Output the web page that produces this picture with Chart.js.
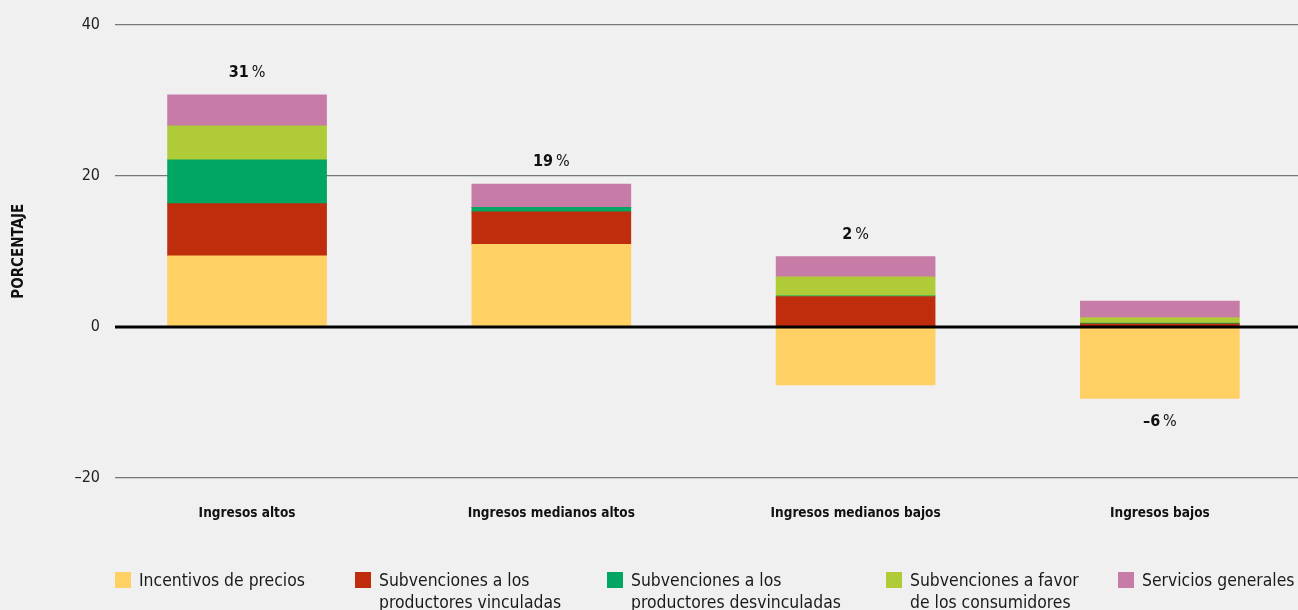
<!DOCTYPE html>
<html><head><meta charset="utf-8">
<script src="https://cdn.jsdelivr.net/npm/chart.js@4.4.1/dist/chart.umd.min.js"></script>
<style>
html,body{margin:0;padding:0;background:#f0f0f0;overflow:hidden;}
#wrap{position:relative;width:1298px;height:610px;}
canvas{position:absolute;left:0;top:0;}
.lg{position:absolute;top:569px;font-family:'Liberation Sans Narrow','DejaVu Sans Condensed',sans-serif;font-size:17.4px;line-height:22px;color:#1a1a1a;}
.lg i{position:absolute;left:0;top:3px;width:16px;height:16px;}
.lg span{display:block;padding-left:24px;white-space:nowrap;}
</style></head>
<body><div id="wrap"><canvas id="c" width="1298" height="610"></canvas><div id="legend"></div></div>
<script>
const categories = ["Ingresos altos","Ingresos medianos altos","Ingresos medianos bajos","Ingresos bajos"];
const seriesNames = [["Incentivos de precios"],["Subvenciones a los","productores vinculadas"],["Subvenciones a los","productores desvinculadas"],["Subvenciones a favor","de los consumidores"],["Servicios generales"]];
const incentivosPrecios = [9.4, 10.9, -7.7, -9.5];
const subvVinculadas   = [6.9, 4.3, 4.0, 0.4];
const subvDesvinculadas= [5.8, 0.6, 0.1, 0.1];
const subvConsumidores = [4.5, 0.0, 2.5, 0.7];
const serviciosGenerales=[4.1, 3.1, 2.7, 2.2];
const totals = [31, 19, 2, -6];
const yTicks = [-20, 0, 20, 40];
const colors = ["#FFD064","#C02D0C","#00A661","#B0CB38","#C77CA7"];
const seriesValues = [incentivosPrecios, subvVinculadas, subvDesvinculadas, subvConsumidores, serviciosGenerales];
const FONT = "'Liberation Sans Narrow','DejaVu Sans Condensed',sans-serif";

const legendX = [115, 355, 607, 886, 1118];
const lg = document.getElementById('legend');
seriesNames.forEach((n,i)=>{
  const d=document.createElement('div'); d.className='lg'; d.style.left=legendX[i]+'px';
  d.innerHTML='<i style="background:'+colors[i]+'"></i>'+n.map(t=>'<span>'+t+'</span>').join('');
  lg.appendChild(d);
});

const totalsPlugin = {
  id:'totals',
  afterDatasetsDraw(chart){
    const ctx=chart.ctx, ys=chart.scales.y, xs=chart.scales.x, ca=chart.chartArea;
    ctx.save();
    ctx.strokeStyle='#000'; ctx.lineWidth=3;
    const z=Math.round(ys.getPixelForValue(0));
    ctx.beginPath(); ctx.moveTo(ca.left,z); ctx.lineTo(ca.right,z); ctx.stroke();
    categories.forEach((c,i)=>{
      let pos=0,neg=0;
      seriesValues.forEach(s=>{ if(s[i]>=0) pos+=s[i]; else neg+=s[i]; });
      const x=xs.getPixelForValue(i);
      const y= totals[i]>=0 ? ys.getPixelForValue(pos)-22 : ys.getPixelForValue(neg)+23;
      const num=(totals[i]<0?'–':'')+Math.abs(totals[i]);
      ctx.font='bold 16px '+FONT; const w1=ctx.measureText(num).width;
      ctx.font='16px '+FONT; const w2=ctx.measureText('\u2009%').width;
      const sx=x-(w1+w2)/2;
      ctx.textBaseline='middle'; ctx.textAlign='left'; ctx.fillStyle='#111';
      ctx.font='bold 16px '+FONT; ctx.fillText(num,sx,y);
      ctx.font='16px '+FONT; ctx.fillText('\u2009%',sx+w1,y);
    });
    ctx.restore();
  }
};

new Chart(document.getElementById('c'),{
  type:'bar',
  data:{datasets: seriesValues.map((s,k)=>({
    label: seriesNames[k].join(' '),
    data: s.map((v,i)=>({x:i,y:v})),
    backgroundColor: colors[k], borderWidth:0, barThickness:159
  }))},
  options:{
    responsive:false, animation:false,
    layout:{padding:{top:24,right:0,bottom:68,left:0}},
    plugins:{legend:{display:false},tooltip:{enabled:false}},
    scales:{
      x:{type:'linear', stacked:true, offset:false, min:-0.434, max:3.454,
        afterBuildTicks(a){a.ticks=[0,1,2,3].map(v=>({value:v}));},
        grid:{display:false, offset:false}, border:{display:false},
        ticks:{padding:20, maxRotation:0, autoSkip:false, color:'#111', font:{family:FONT,size:13.5,weight:'bold'}, callback:(v)=>categories[v]}
      },
      y:{stacked:true, min:-20, max:40,
        afterBuildTicks(a){a.ticks=yTicks.map(v=>({value:v}));},
        afterFit(a){a.width=115;},
        grid:{color:'#777', lineWidth:1.2, drawTicks:false}, border:{display:false},
        ticks:{padding:15, color:'#222', font:{family:FONT,size:16}, callback:(v)=> v<0 ? '–'+Math.abs(v) : ''+v},
        title:{display:true, text:'PORCENTAJE', color:'#111', padding:{top:10,bottom:0}, font:{family:FONT,size:15,weight:'bold'}}
      }
    }
  },
  plugins:[totalsPlugin]
});
</script></body></html>
